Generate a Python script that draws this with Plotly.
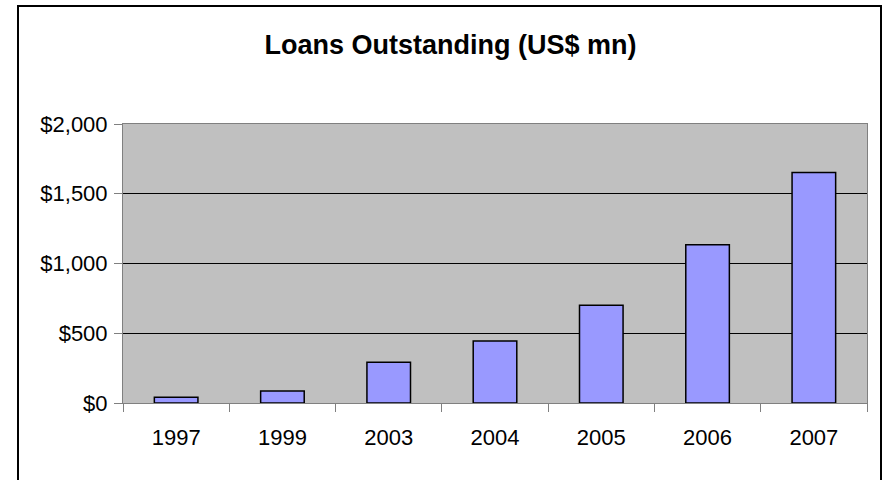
import plotly.graph_objects as go

# Loans outstanding by year, US$ millions
years = ["1997", "1999", "2003", "2004", "2005", "2006", "2007"]
loans = [42, 86, 292, 445, 700, 1134, 1653]

y_tick_vals = [0, 500, 1000, 1500, 2000]
y_tick_text = ["$0", "$500", "$1,000", "$1,500", "$2,000"]

W, H = 886, 480
L, R, T, B = 123, 19, 124, 77
pw, ph = W - L - R, H - T - B


def px_to_paper_x(px):
    return (px - L) / pw


def px_to_paper_y(py):
    return (H - B - py) / ph


fig = go.Figure(
    go.Bar(
        x=years,
        y=loans,
        marker=dict(color="#9999FF", line=dict(color="black", width=1.5)),
        width=0.41,
    )
)

font_family = "Liberation Sans, Arial, sans-serif"

fig.update_layout(
    width=W,
    height=H,
    margin=dict(l=L, r=R, t=T, b=B),
    paper_bgcolor="white",
    plot_bgcolor="#C0C0C0",
    showlegend=False,
    font=dict(family=font_family, size=22, color="black"),
    title=dict(
        text="<b>Loans Outstanding (US$ mn)</b>",
        font=dict(family=font_family, size=27, color="black"),
        x=450.5 / W,
        xref="container",
        xanchor="center",
        y=1 - 45 / H,
        yref="container",
        yanchor="middle",
    ),
    xaxis=dict(
        type="category",
        showgrid=False,
        showline=True,
        linecolor="#808080",
        linewidth=1,
        mirror=True,
        ticks="outside",
        tickson="boundaries",
        ticklen=8,
        tickcolor="#808080",
        tickfont=dict(size=22),
        ticklabelstandoff=15,
    ),
    yaxis=dict(
        range=[0, 2000],
        tickvals=y_tick_vals,
        ticktext=y_tick_text,
        showgrid=True,
        gridcolor="black",
        gridwidth=1,
        showline=True,
        linecolor="#808080",
        linewidth=1,
        mirror=True,
        ticks="outside",
        ticklen=8,
        tickcolor="#808080",
        tickfont=dict(size=22),
        ticklabelstandoff=2,
        zeroline=False,
    ),
    shapes=[
        dict(
            type="rect",
            xref="paper",
            yref="paper",
            x0=px_to_paper_x(18),
            x1=px_to_paper_x(881),
            y0=px_to_paper_y(495),
            y1=px_to_paper_y(6),
            line=dict(color="black", width=2),
            fillcolor="rgba(0,0,0,0)",
            layer="above",
        )
    ],
)

fig.write_html("out.html")
